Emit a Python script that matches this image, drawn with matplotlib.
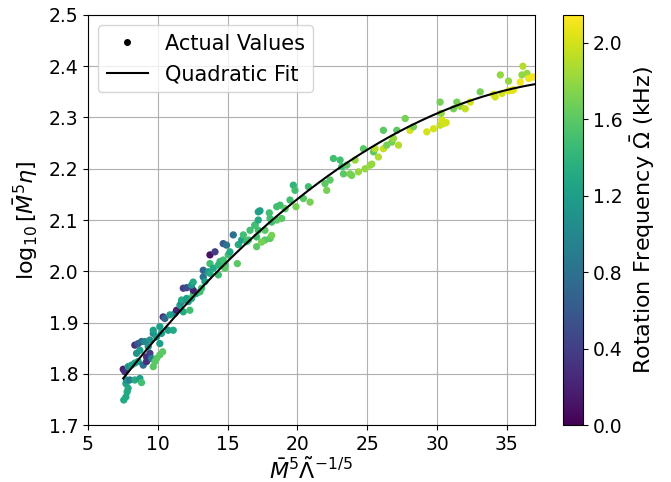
import numpy as np
import matplotlib
matplotlib.use("Agg")
import matplotlib.pyplot as plt
from matplotlib.lines import Line2D

# ==========================================================
# Data
# ==========================================================

# x: M^5 Lambda^(-1/5), y: log10[M^5 eta], omega: rotation frequency (kHz)
x_low = [7.57, 7.72, 7.81, 7.88, 7.72, 7.76, 8.00, 8.36, 8.72, 8.84,
         7.53, 7.65, 7.88, 8.12, 8.36, 8.60, 8.96, 9.20, 9.20, 9.44,
         9.56, 9.68, 9.80, 9.92, 10.15, 10.35, 8.36, 8.60, 8.84, 9.08,
         8.72, 8.48, 9.32, 9.44, 9.68, 9.68, 9.92, 10.15, 10.15, 10.27,
         10.39, 10.51, 10.75, 10.87, 11.11, 11.23, 11.35, 11.59, 11.71, 11.83,
         12.30, 12.19]
y_low = [1.749, 1.755, 1.765, 1.772, 1.781, 1.788, 1.788, 1.788, 1.791, 1.783,
         1.809, 1.804, 1.814, 1.817, 1.821, 1.824, 1.817, 1.824, 1.833, 1.840,
         1.830, 1.814, 1.824, 1.830, 1.837, 1.843, 1.856, 1.859, 1.863, 1.863,
         1.846, 1.840, 1.853, 1.866, 1.879, 1.885, 1.872, 1.859, 1.892, 1.879,
         1.911, 1.908, 1.885, 1.915, 1.885, 1.918, 1.924, 1.934, 1.941, 1.921,
         1.924, 1.941]
omega_low = [1.3, 1.3, 1.3, 1.3, 1.25, 1.1, 0.9, 1.3, 1.2, 1.5,
             0.2, 0.3, 1.1, 1.2, 1.2, 1.2, 0.8, 0.3, 0.3, 0.4,
             0.9, 1.6, 1.6, 1.6, 1.6, 1.6, 0.3, 0.6, 0.7, 1.0,
             1.2, 1.1, 1.1, 1.1, 1.0, 1.2, 1.2, 1.2, 1.2, 1.2,
             0.3, 0.7, 1.2, 1.2, 1.3, 1.1, 0.2, 1.2, 0.9, 1.3,
             1.5, 1.2]

x_mid = [11.71, 12.07, 12.42, 12.54, 12.78, 13.02, 13.14, 11.83, 12.07, 12.54,
         12.42, 12.54, 13.26, 13.38, 13.26, 13.62, 13.74, 13.74, 13.98, 14.34,
         14.34, 14.46, 14.69, 14.81, 14.81, 15.05, 13.74, 14.10, 14.69, 14.93,
         15.70, 15.17, 15.77, 16.01, 16.13, 15.41, 16.37, 16.49, 16.61, 16.96,
         17.08, 17.20, 17.20]
y_mid = [1.944, 1.947, 1.947, 1.954, 1.957, 1.960, 1.967, 1.967, 1.968, 1.963,
         1.973, 1.979, 1.989, 1.980, 2.002, 1.999, 1.996, 2.015, 2.006, 2.012,
         1.993, 2.019, 2.022, 2.012, 2.006, 2.032, 2.032, 2.038, 2.054, 2.051,
         2.015, 2.038, 2.052, 2.061, 2.071, 2.071, 2.058, 2.061, 2.080, 2.090,
         2.067, 2.080, 2.116]
omega_mid = [1.3, 1.2, 1.3, 1.5, 1.3, 1.5, 1.5, 0.4, 0.5, 0.2,
             1.1, 1.3, 0.8, 1.2, 0.7, 1.1, 1.3, 1.5, 1.3, 1.4,
             1.5, 1.4, 1.5, 1.5, 1.6, 1.5, 0.1, 0.4, 0.6, 0.8,
             1.6, 1.3, 1.3, 1.2, 1.5, 0.8, 1.5, 1.5, 1.5, 1.3,
             1.5, 1.5, 1.2]

x_high = [16.96, 17.20, 17.32, 17.68, 17.68, 18.04, 18.16, 17.08, 17.44, 17.99,
          18.04, 18.16, 18.52, 18.76, 18.52, 18.88, 19.12, 19.47, 19.71, 19.83,
          19.90, 20.43, 20.79, 20.91, 21.98, 22.10, 22.34, 22.58, 23.06, 23.18,
          23.30, 23.54, 23.77, 23.89, 24.13, 24.37, 24.73, 24.85, 25.21, 25.33,
          25.45, 25.57, 25.80, 26.16, 26.16, 26.40, 26.76, 26.88, 27.12, 27.24,
          27.72, 28.07, 28.31, 29.27, 29.75, 30.22, 30.35, 30.46, 30.66, 30.22,
          30.30]
y_high = [2.090, 2.100, 2.118, 2.080, 2.061, 2.064, 2.070, 2.048, 2.057, 2.114,
          2.103, 2.096, 2.126, 2.129, 2.100, 2.103, 2.122, 2.139, 2.168, 2.158,
          2.126, 2.142, 2.165, 2.135, 2.171, 2.158, 2.178, 2.220, 2.217, 2.204,
          2.190, 2.207, 2.190, 2.187, 2.217, 2.194, 2.239, 2.200, 2.207, 2.209,
          2.233, 2.239, 2.223, 2.239, 2.275, 2.246, 2.252, 2.259, 2.275, 2.246,
          2.298, 2.275, 2.282, 2.272, 2.278, 2.285, 2.295, 2.288, 2.290, 2.330,
          2.308]
omega_high = [1.5, 1.3, 1.2, 1.6, 1.6, 1.6, 1.7, 1.6, 1.7, 1.5,
              1.5, 1.5, 1.5, 1.5, 1.6, 1.6, 1.6, 1.5, 1.4, 1.5,
              1.7, 1.6, 1.5, 1.7, 1.6, 1.7, 1.6, 1.5, 1.5, 1.5,
              1.6, 1.6, 1.7, 1.7, 1.8, 1.8, 1.6, 1.8, 1.8, 1.8,
              1.6, 1.9, 1.9, 1.95, 1.6, 1.7, 1.7, 1.8, 1.6, 1.9,
              1.7, 2.0, 1.7, 2.0, 2.0, 1.95, 2.0, 2.0, 2.0, 1.7,
              1.8]

x_top = [31.18, 31.42, 31.66, 32.02, 32.38, 33.09, 34.05, 34.17, 34.53, 34.65,
         35.12, 35.12, 35.36, 35.48, 35.96, 36.08, 36.15, 36.44, 36.56, 36.80,
         36.95]
y_top = [2.317, 2.330, 2.322, 2.317, 2.330, 2.350, 2.345, 2.340, 2.383, 2.347,
         2.371, 2.352, 2.353, 2.354, 2.369, 2.383, 2.400, 2.386, 2.376, 2.379,
         2.379]
omega_top = [1.7, 1.7, 1.8, 1.95, 2.0, 1.7, 2.0, 2.0, 1.8, 2.0,
             1.8, 2.05, 2.05, 2.05, 2.1, 1.8, 1.9, 1.8, 2.1, 2.1,
             2.12]

x_vals = np.array(x_low + x_mid + x_high + x_top)
y_vals = np.array(y_low + y_mid + y_high + y_top)
omega = np.array(omega_low + omega_mid + omega_high + omega_top)

# ==========================================================
# Quadratic fit
# ==========================================================

coeffs = np.polyfit(x_vals, y_vals, 2)
x_fit = np.linspace(x_vals.min(), 37, 200)
y_fit = np.polyval(coeffs, x_fit)

# ==========================================================
# Plot
# ==========================================================

plt.rcParams["font.size"] = 13.5

fig = plt.figure(figsize=(6.71, 4.82), dpi=100)
ax = fig.add_axes([0.131, 0.118, 0.666, 0.851])
cax = fig.add_axes([0.8386, 0.118, 0.0307, 0.851])

ax.grid(True, color="#b0b0b0", linewidth=0.8, zorder=0)
ax.set_axisbelow(True)

sc = ax.scatter(x_vals, y_vals, c=omega, cmap="viridis", vmin=0, vmax=2.146,
                s=18, zorder=2)
ax.plot(x_fit, y_fit, color="k", linewidth=1.5, zorder=3)

ax.set_xlim(5, 37)
ax.set_ylim(1.7, 2.5)
ax.set_xticks([5, 10, 15, 20, 25, 30, 35])
ax.set_yticks(np.arange(1.7, 2.51, 0.1))
ax.set_xlabel(r"$\bar{M}^5\tilde{\Lambda}^{-1/5}$", fontsize=16, labelpad=2)
ax.set_ylabel(r"$\log_{10}[\bar{M}^5\eta]$", fontsize=16, labelpad=6)

handles = [
    Line2D([], [], marker=".", color="k", linestyle="None", markersize=8),
    Line2D([], [], color="k", linewidth=1.5),
]
ax.legend(handles, ["Actual Values", "Quadratic Fit"], loc="upper left",
          fontsize=15)

cb = fig.colorbar(sc, cax=cax)
cb.set_ticks([0.0, 0.4, 0.8, 1.2, 1.6, 2.0])
cb.set_label(r"Rotation Frequency $\bar{\Omega}$ (kHz)", fontsize=16)

fig.savefig("out.png", dpi=100)
